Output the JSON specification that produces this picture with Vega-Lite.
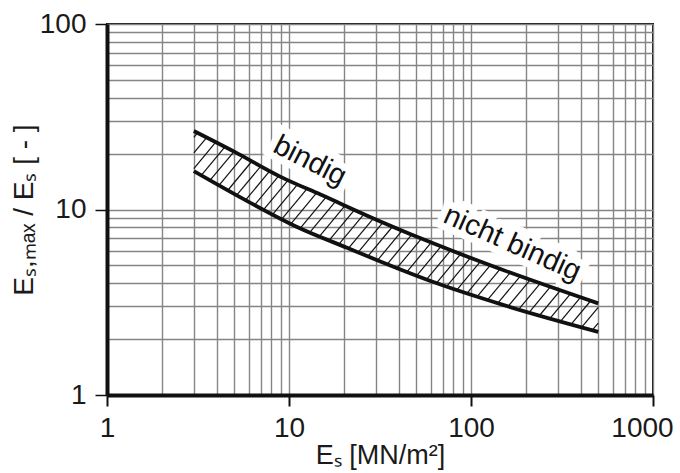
{
  "$schema": "https://vega.github.io/schema/vega-lite/v6.json",
  "width": 546,
  "height": 371,
  "autosize": "none",
  "padding": {"left": 107, "top": 24, "right": 27, "bottom": 78},
  "background": "white",
  "config": {
    "view": {"stroke": "#111", "strokeWidth": 2},
    "font": "Liberation Sans"
  },
  "datasets": {
    "curves": [
      {"series": "upper", "E": 3, "R": 26.5},
      {"series": "upper", "E": 5, "R": 20.5},
      {"series": "upper", "E": 9, "R": 15},
      {"series": "upper", "E": 15, "R": 12},
      {"series": "upper", "E": 32, "R": 8.6},
      {"series": "upper", "E": 65, "R": 6.45},
      {"series": "upper", "E": 150, "R": 4.72},
      {"series": "upper", "E": 500, "R": 3.12},
      {"series": "lower", "E": 3, "R": 16.1},
      {"series": "lower", "E": 6, "R": 11},
      {"series": "lower", "E": 11, "R": 8.08},
      {"series": "lower", "E": 21, "R": 6.2},
      {"series": "lower", "E": 32, "R": 5.23},
      {"series": "lower", "E": 65, "R": 4.0},
      {"series": "lower", "E": 150, "R": 3.06},
      {"series": "lower", "E": 500, "R": 2.19}
    ],
    "hatch": [
      {"e1": 3.0, "r1": 24.48, "e2": 3.143, "r2": 25.87},
      {"e1": 3.0, "r1": 20.17, "e2": 3.528, "r2": 24.42},
      {"e1": 3.0, "r1": 16.61, "e2": 3.959, "r2": 23.05},
      {"e1": 3.296, "r1": 15.29, "e2": 4.445, "r2": 21.76},
      {"e1": 3.687, "r1": 14.38, "e2": 4.988, "r2": 20.54},
      {"e1": 4.123, "r1": 13.51, "e2": 5.586, "r2": 19.33},
      {"e1": 4.613, "r1": 12.70, "e2": 6.256, "r2": 18.20},
      {"e1": 5.158, "r1": 11.94, "e2": 7.007, "r2": 17.14},
      {"e1": 5.769, "r1": 11.22, "e2": 7.845, "r2": 16.13},
      {"e1": 6.465, "r1": 10.57, "e2": 8.785, "r2": 15.19},
      {"e1": 7.254, "r1": 9.975, "e2": 9.892, "r2": 14.39},
      {"e1": 8.136, "r1": 9.408, "e2": 11.15, "r2": 13.65},
      {"e1": 9.127, "r1": 8.873, "e2": 12.58, "r2": 12.96},
      {"e1": 10.24, "r1": 8.372, "e2": 14.18, "r2": 12.29},
      {"e1": 11.51, "r1": 7.920, "e2": 15.98, "r2": 11.66},
      {"e1": 13.01, "r1": 7.536, "e2": 18.02, "r2": 11.06},
      {"e1": 14.70, "r1": 7.168, "e2": 20.31, "r2": 10.50},
      {"e1": 16.61, "r1": 6.820, "e2": 22.90, "r2": 9.961},
      {"e1": 18.77, "r1": 6.488, "e2": 25.81, "r2": 9.449},
      {"e1": 21.20, "r1": 6.169, "e2": 29.10, "r2": 8.963},
      {"e1": 23.97, "r1": 5.874, "e2": 32.82, "r2": 8.511},
      {"e1": 27.10, "r1": 5.591, "e2": 37.09, "r2": 8.098},
      {"e1": 30.63, "r1": 5.322, "e2": 41.92, "r2": 7.707},
      {"e1": 34.66, "r1": 5.074, "e2": 47.37, "r2": 7.333},
      {"e1": 39.25, "r1": 4.840, "e2": 53.54, "r2": 6.978},
      {"e1": 44.46, "r1": 4.617, "e2": 60.51, "r2": 6.640},
      {"e1": 50.35, "r1": 4.403, "e2": 68.45, "r2": 6.327},
      {"e1": 57.03, "r1": 4.202, "e2": 77.56, "r2": 6.038},
      {"e1": 64.58, "r1": 4.008, "e2": 87.87, "r2": 5.764},
      {"e1": 73.52, "r1": 3.846, "e2": 99.56, "r2": 5.502},
      {"e1": 83.67, "r1": 3.691, "e2": 112.8, "r2": 5.252},
      {"e1": 95.22, "r1": 3.541, "e2": 127.8, "r2": 5.012},
      {"e1": 108.4, "r1": 3.397, "e2": 144.8, "r2": 4.783},
      {"e1": 123.3, "r1": 3.260, "e2": 164.4, "r2": 4.574},
      {"e1": 140.4, "r1": 3.128, "e2": 186.7, "r2": 4.378},
      {"e1": 160.0, "r1": 3.007, "e2": 212.0, "r2": 4.190},
      {"e1": 182.8, "r1": 2.898, "e2": 240.8, "r2": 4.011},
      {"e1": 208.8, "r1": 2.792, "e2": 273.5, "r2": 3.839},
      {"e1": 238.5, "r1": 2.691, "e2": 310.5, "r2": 3.674},
      {"e1": 272.5, "r1": 2.593, "e2": 352.7, "r2": 3.516},
      {"e1": 311.2, "r1": 2.499, "e2": 400.6, "r2": 3.366},
      {"e1": 355.5, "r1": 2.408, "e2": 455.0, "r2": 3.222},
      {"e1": 406.1, "r1": 2.320, "e2": 500, "r2": 2.966},
      {"e1": 463.8, "r1": 2.236, "e2": 500, "r2": 2.443}
    ],
    "labels": [
      {"label": "bindig", "E": 13.05, "R": 18.3},
      {"label": "nicht bindig", "E": 169, "R": 6.57}
    ]
  },
  "layer": [
    {
      "data": {"name": "labels"},
      "transform": [{"filter": "datum.label == 'bindig'"}],
      "mark": {"type": "text", "angle": 27, "fontSize": 29, "font": "Liberation Sans", "stroke": "white", "strokeWidth": 14, "strokeJoin": "miter", "fill": "white", "align": "center", "baseline": "middle"},
      "encoding": {
        "x": {"field": "E", "type": "quantitative", "scale": {"type": "log", "domain": [1, 1000], "nice": false},
          "axis": {
            "values": [1,2,3,4,5,6,7,8,9,10,20,30,40,50,60,70,80,90,100,200,300,400,500,600,700,800,900,1000],
            "grid": true, "gridColor": "#858585", "gridWidth": 1.4,
            "domainColor": "#111", "domainWidth": 4,
            "tickColor": "#111", "tickWidth": 2, "tickSize": 11,
            "tickOpacity": {"condition": {"test": "indexof([1,10,100,1000], datum.value) >= 0", "value": 1}, "value": 0},
            "labelOffset": {"condition": {"test": "datum.value == 1000", "value": -11}, "value": 0},
            "labelExpr": "indexof([1,10,100,1000], datum.value) >= 0 ? format(datum.value, 'd') : ''",
            "labelOverlap": false, "labelFlush": false, "labelBound": false,
            "labelFont": "Liberation Sans", "labelFontSize": 28, "labelColor": "#1a1a1a", "labelPadding": 8,
            "title": "Eₛ [MN/m²]", "titleFont": "Liberation Sans", "titleFontSize": 27, "titleFontWeight": "normal", "titleColor": "#1a1a1a", "titlePadding": 0
          }},
        "y": {"field": "R", "type": "quantitative", "scale": {"type": "log", "domain": [1, 100], "nice": false},
          "axis": {
            "values": [1,2,3,4,5,6,7,8,9,10,20,30,40,50,60,70,80,90,100],
            "grid": true, "gridColor": "#858585", "gridWidth": 1.4,
            "domainColor": "#111", "domainWidth": 4,
            "tickColor": "#111", "tickWidth": 1.5, "tickSize": 12,
            "tickOpacity": {"condition": {"test": "indexof([1,10,100], datum.value) >= 0", "value": 1}, "value": 0},
            "labelExpr": "indexof([1,10,100], datum.value) >= 0 ? format(datum.value, 'd') : ''",
            "labelOverlap": false, "labelFlush": false, "labelBound": false,
            "labelFont": "Liberation Sans", "labelFontSize": 28, "labelColor": "#1a1a1a", "labelPadding": 9,
            "title": "Eₛ,ₘₐₓ / Eₛ [ - ]", "titleFont": "Liberation Sans", "titleFontSize": 28, "titleFontWeight": "normal", "titleColor": "#1a1a1a", "titlePadding": 1
          }},
        "text": {"field": "label"}
      }
    },
    {
      "data": {"name": "labels"},
      "transform": [{"filter": "datum.label == 'nicht bindig'"}],
      "mark": {"type": "text", "angle": 24, "fontSize": 29, "font": "Liberation Sans", "stroke": "white", "strokeWidth": 14, "strokeJoin": "miter", "fill": "white", "align": "center", "baseline": "middle"},
      "encoding": {
        "x": {"field": "E", "type": "quantitative"},
        "y": {"field": "R", "type": "quantitative"},
        "text": {"field": "label"}
      }
    },
    {
      "data": {"name": "hatch"},
      "mark": {"type": "rule", "color": "#111", "strokeWidth": 1.2},
      "encoding": {
        "x": {"field": "e1", "type": "quantitative"},
        "y": {"field": "r1", "type": "quantitative"},
        "x2": {"field": "e2"},
        "y2": {"field": "r2"}
      }
    },
    {
      "data": {"name": "curves"},
      "mark": {"type": "line", "color": "#111", "strokeWidth": 3.8, "interpolate": "monotone", "strokeCap": "butt"},
      "encoding": {
        "x": {"field": "E", "type": "quantitative"},
        "y": {"field": "R", "type": "quantitative"},
        "detail": {"field": "series"}
      }
    },
    {
      "data": {"name": "labels"},
      "transform": [{"filter": "datum.label == 'bindig'"}],
      "mark": {"type": "text", "angle": 27, "fontSize": 29, "font": "Liberation Sans", "fill": "#111", "align": "center", "baseline": "middle"},
      "encoding": {
        "x": {"field": "E", "type": "quantitative"},
        "y": {"field": "R", "type": "quantitative"},
        "text": {"field": "label"}
      }
    },
    {
      "data": {"name": "labels"},
      "transform": [{"filter": "datum.label == 'nicht bindig'"}],
      "mark": {"type": "text", "angle": 24, "fontSize": 29, "font": "Liberation Sans", "fill": "#111", "align": "center", "baseline": "middle"},
      "encoding": {
        "x": {"field": "E", "type": "quantitative"},
        "y": {"field": "R", "type": "quantitative"},
        "text": {"field": "label"}
      }
    }
  ]
}
